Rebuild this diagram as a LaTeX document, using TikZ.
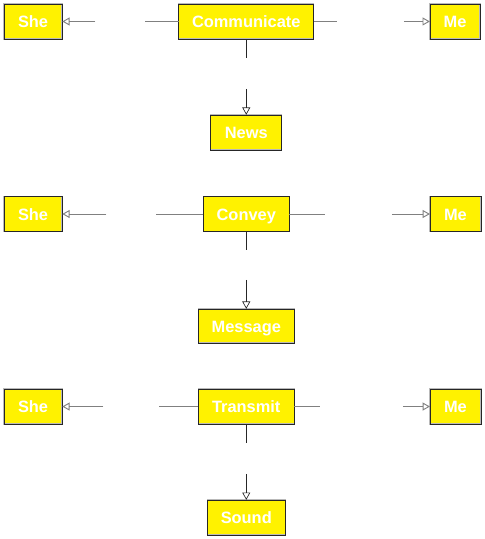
\documentclass[tikz,border=0pt]{standalone}
\usepackage{fontspec}
\setmainfont{Liberation Sans}
\usetikzlibrary{arrows.meta,positioning}

\begin{document}
\begin{tikzpicture}[node distance=83.25pt,on grid,>={Triangle[open,length=5.5pt,width=6pt]}]
  \tikzstyle{box}=[fill=yellow, draw=gray!55, double=black!85, double distance=0.45pt,
    line width=0.3pt, inner sep=0pt, minimum height=26.25pt, text=white,
    text height=9.2pt, text depth=0.2pt,
    font=\bfseries\fontsize{12.3}{14}\selectfont]
  \tikzstyle{hline}=[draw=gray, line width=0.7pt]
  \tikzstyle{vline}=[draw=black!85, line width=0.5pt]

  \useasboundingbox (0,0) rectangle (363.75pt,-404.25pt);

  % first row
  \node[box, minimum width=101.25pt] (comm) at (184.7pt,-16.1pt) {Communicate};
  \node[box, minimum width=43.5pt] (she_1) [left=159.9pt of comm] {She};
  \node[box, minimum width=37.5pt] (me_1) [right=156.6pt of comm] {Me};
  \node[box, minimum width=53.25pt] (news) [below=of comm] {News};

  \coordinate[left=25.5pt of comm.west] (comm_wa);
  \coordinate[right=24.75pt of she_1.east] (comm_wb);
  \coordinate[right=16.9pt of comm.east] (comm_ea);
  \coordinate[left=19.5pt of me_1.west] (comm_eb);
  \coordinate[below=14.25pt of comm.south] (comm_sa);
  \coordinate[above=19.5pt of news.north] (comm_sb);

  \path[hline]
  (comm.west) edge (comm_wa)
  (comm_wb) edge[->] (she_1.east)
  (comm.east) edge (comm_ea)
  (comm_eb) edge[->] (me_1.west);
  \path[vline]
  (comm.south) edge (comm_sa)
  (comm_sb) edge[->] (news.north);

  % second row
  \node[box, minimum width=64.5pt] (convey) [below=144.4pt of comm] {Convey};
  \node[box, minimum width=43.5pt] (she_2) [left=159.9pt of convey] {She};
  \node[box, minimum width=38pt] (me_2) [right=156.9pt of convey] {Me};
  \node[box, minimum width=72pt, minimum height=25.5pt] (message) [below=84pt of convey] {Message};

  \coordinate[left=35.25pt of convey.west] (convey_wa);
  \coordinate[right=33pt of she_2.east] (convey_wb);
  \coordinate[right=27pt of convey.east] (convey_ea);
  \coordinate[left=28.5pt of me_2.west] (convey_eb);
  \coordinate[below=13.5pt of convey.south] (convey_sa);
  \coordinate[above=21.75pt of message.north] (convey_sb);

  \path[hline]
  (convey.west) edge (convey_wa)
  (convey_wb) edge[->] (she_2.east)
  (convey.east) edge (convey_ea)
  (convey_eb) edge[->] (me_2.west);
  \path[vline]
  (convey.south) edge (convey_sa)
  (convey_sb) edge[->] (message.north);

  % third row
  \node[box, minimum width=72pt] (transmit) [below=144.4pt of convey] {Transmit};
  \node[box, minimum width=43.5pt] (she_3) [left=159.9pt of transmit] {She};
  \node[box, minimum width=38pt] (me_3) [right=156.9pt of transmit] {Me};
  \node[box, minimum width=58.5pt] (sound) [below=of transmit] {Sound};

  \coordinate[left=29.25pt of transmit.west] (transmit_wa);
  \coordinate[right=30.75pt of she_3.east] (transmit_wb);
  \coordinate[right=19.5pt of transmit.east] (transmit_ea);
  \coordinate[left=20.25pt of me_3.west] (transmit_eb);
  \coordinate[below=14.25pt of transmit.south] (transmit_sa);
  \coordinate[above=19.5pt of sound.north] (transmit_sb);

  \path[hline]
  (transmit.west) edge (transmit_wa)
  (transmit_wb) edge[->] (she_3.east)
  (transmit.east) edge (transmit_ea)
  (transmit_eb) edge[->] (me_3.west);
  \path[vline]
  (transmit.south) edge (transmit_sa)
  (transmit_sb) edge[->] (sound.north);
\end{tikzpicture}
\end{document}
